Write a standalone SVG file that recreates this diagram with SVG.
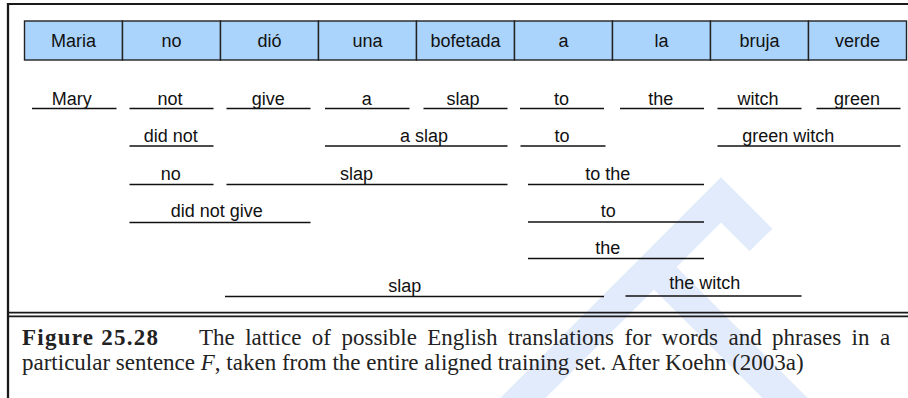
<svg xmlns="http://www.w3.org/2000/svg" width="908" height="398" viewBox="0 0 908 398">
<style>
.bx{fill:#aad4fb;stroke:#222;stroke-width:1.4}
.bt{font-family:"Liberation Sans",Arial,sans-serif;font-size:18px;fill:#111;text-anchor:middle}
.wt{font-family:"Liberation Sans",Arial,sans-serif;font-size:18px;fill:#111}
.m{text-anchor:middle}
.ln{stroke:#111;stroke-width:1.6;fill:none}
.fr{stroke:#1a1a1a;fill:none}
.cap{font-family:"Liberation Serif","Times New Roman",serif;font-size:23px;fill:#222}
.wm{fill:none;stroke:#e2ebfb;stroke-width:32;stroke-linejoin:miter}
</style>
<rect width="908" height="398" fill="#fff"/>
<g id="watermark">
<path class="wm" d="M501 420 L721 200 L761 240"/>
<path class="wm" d="M655 268 L815 428" stroke-width="38"/>
</g>
<g id="frame">
<line class="fr" x1="8" y1="4" x2="908" y2="4" stroke-width="2"/>
<line class="fr" x1="8" y1="3" x2="8" y2="398" stroke-width="2.3"/>
<line class="fr" x1="8" y1="312.6" x2="908" y2="312.6" stroke-width="1.7"/>
<line class="fr" x1="8" y1="316.3" x2="908" y2="316.3" stroke-width="1.7"/>
</g>
<g id="source">
<g id="s1"><rect class="bx" x="24.5" y="21" width="98" height="39"/><text class="bt" x="73.5" y="46.5">Maria</text></g>
<g id="s2"><rect class="bx" x="122.5" y="21" width="98" height="39"/><text class="bt" x="171.5" y="46.5">no</text></g>
<g id="s3"><rect class="bx" x="220.5" y="21" width="98" height="39"/><text class="bt" x="269.5" y="46.5">dió</text></g>
<g id="s4"><rect class="bx" x="318.5" y="21" width="98" height="39"/><text class="bt" x="367.5" y="46.5">una</text></g>
<g id="s5"><rect class="bx" x="416.5" y="21" width="98" height="39"/><text class="bt" x="465.5" y="46.5">bofetada</text></g>
<g id="s6"><rect class="bx" x="514.5" y="21" width="98" height="39"/><text class="bt" x="563.5" y="46.5">a</text></g>
<g id="s7"><rect class="bx" x="612.5" y="21" width="98" height="39"/><text class="bt" x="661.5" y="46.5">la</text></g>
<g id="s8"><rect class="bx" x="710.5" y="21" width="98" height="39"/><text class="bt" x="759.5" y="46.5">bruja</text></g>
<g id="s9"><rect class="bx" x="808.5" y="21" width="98" height="39"/><text class="bt" x="857.5" y="46.5">verde</text></g>
</g>
<g id="connectors">
<line class="ln" x1="32" y1="108.5" x2="116.5" y2="108.5"/>
<line class="ln" x1="129.5" y1="108.5" x2="213.5" y2="108.5"/>
<line class="ln" x1="226.5" y1="108.5" x2="310.5" y2="108.5"/>
<line class="ln" x1="325" y1="108.5" x2="409.5" y2="108.5"/>
<line class="ln" x1="423.5" y1="108.5" x2="507.5" y2="108.5"/>
<line class="ln" x1="520" y1="108.5" x2="604" y2="108.5"/>
<line class="ln" x1="620" y1="108.5" x2="704" y2="108.5"/>
<line class="ln" x1="717.5" y1="108.5" x2="801.5" y2="108.5"/>
<line class="ln" x1="816.5" y1="108.5" x2="900.5" y2="108.5"/>
<line class="ln" x1="129.5" y1="146" x2="213.5" y2="146"/>
<line class="ln" x1="325" y1="146" x2="507.5" y2="146"/>
<line class="ln" x1="520.5" y1="146" x2="605.5" y2="146"/>
<line class="ln" x1="717.5" y1="146" x2="900.5" y2="146"/>
<line class="ln" x1="129.5" y1="184.5" x2="213.5" y2="184.5"/>
<line class="ln" x1="226.5" y1="184.5" x2="507.5" y2="184.5"/>
<line class="ln" x1="528" y1="184.5" x2="704" y2="184.5"/>
<line class="ln" x1="129.5" y1="222.5" x2="310.5" y2="222.5"/>
<line class="ln" x1="528" y1="222" x2="704" y2="222"/>
<line class="ln" x1="528" y1="258.5" x2="704" y2="258.5"/>
<line class="ln" x1="225" y1="296.5" x2="604" y2="296.5"/>
<line class="ln" x1="625.5" y1="296" x2="801.5" y2="296"/>
</g>
<g id="translations">
<g id="t-mary"><text class="wt m" x="71.7" y="105">Mary</text></g>
<g id="t-not"><text class="wt m" x="170" y="105">not</text></g>
<g id="t-give"><text class="wt m" x="268.3" y="105">give</text></g>
<g id="t-a"><text class="wt m" x="366.7" y="105">a</text></g>
<g id="t-slap1"><text class="wt m" x="463" y="105">slap</text></g>
<g id="t-to1"><text class="wt m" x="561.5" y="105">to</text></g>
<g id="t-the1"><text class="wt m" x="660.7" y="105">the</text></g>
<g id="t-witch"><text class="wt m" x="758" y="105">witch</text></g>
<g id="t-green"><text class="wt m" x="857" y="105">green</text></g>
<g id="t-didnot"><text class="wt m" x="170.8" y="142">did not</text></g>
<g id="t-aslap"><text class="wt" x="400" y="142">a slap</text></g>
<g id="t-to2"><text class="wt m" x="562" y="142">to</text></g>
<g id="t-greenwitch"><text class="wt" x="742.3" y="142">green witch</text></g>
<g id="t-no"><text class="wt m" x="170.8" y="180">no</text></g>
<g id="t-slap2"><text class="wt" x="340" y="180">slap</text></g>
<g id="t-tothe"><text class="wt m" x="607.8" y="180">to the</text></g>
<g id="t-didnotgive"><text class="wt m" x="216.7" y="217">did not give</text></g>
<g id="t-to3"><text class="wt m" x="608.2" y="217.3">to</text></g>
<g id="t-the2"><text class="wt m" x="607.8" y="253.5">the</text></g>
<g id="t-slap3"><text class="wt" x="388.3" y="291.5">slap</text></g>
<g id="t-thewitch"><text class="wt m" x="704.8" y="289">the witch</text></g>
</g>
<g id="caption">
<text class="cap" x="22" y="345" font-weight="bold" font-size="24" textLength="136" lengthAdjust="spacing">Figure 25.28</text>
<text class="cap" x="199" y="345" word-spacing="4.7">The lattice of possible English translations for words and phrases in a</text>
<text class="cap" x="22" y="370">particular sentence <tspan font-style="italic">F</tspan>, taken from the entire aligned training set. After Koehn (2003a)</text>
</g>
</svg>
